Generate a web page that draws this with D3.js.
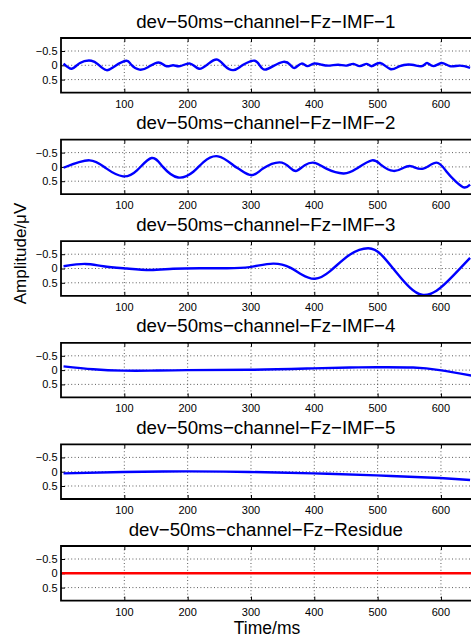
<!DOCTYPE html>
<html>
<head>
<meta charset="utf-8">
<script src="https://cdn.jsdelivr.net/npm/d3@7"></script>
<style>
  html, body { margin: 0; padding: 0; background: #fff; overflow: hidden; }
  svg { display: block; }
  text { font-family: "Liberation Sans", Arial, Helvetica, sans-serif; fill: #000; }
</style>
</head>
<body>
<svg id="chart" width="471" height="637"></svg>
<script>
// Decomposition of the Fz channel (dev, 50 ms) into intrinsic mode functions
const titles = [
  "dev\u221250ms\u2212channel\u2212Fz\u2212IMF\u22121",
  "dev\u221250ms\u2212channel\u2212Fz\u2212IMF\u22122",
  "dev\u221250ms\u2212channel\u2212Fz\u2212IMF\u22123",
  "dev\u221250ms\u2212channel\u2212Fz\u2212IMF\u22124",
  "dev\u221250ms\u2212channel\u2212Fz\u2212IMF\u22125",
  "dev\u221250ms\u2212channel\u2212Fz\u2212Residue"
];

const xTicks = [100, 200, 300, 400, 500, 600];
const yTicks = [-0.5, 0, 0.5];
const yTickLabels = ["\u22120.5", "0", "0.5"];

// time (ms) and amplitude (µV) samples for each component
const imf1T = [4,17,30,48,59,72,85,103,111,124,138,154,166,177,188,204,218,233,247,259,272,283,293,306,314,322,335,351,362,369,380,389,399,412,425,438,451,462,472,483,491,504,520,535,554,570,578,588,601,614,630,646];
const imf1V = [-0.06,0.12,-0.08,-0.16,-0.02,0.17,0.03,-0.16,-0.02,0.15,0.06,-0.1,0.03,0,0.03,-0.06,0.12,-0.06,-0.2,0.03,0.17,0.05,-0.08,-0.16,0.01,0.15,0.03,-0.12,-0.02,0.09,-0.06,0.03,-0.06,-0.02,0.01,-0.02,0.01,-0.05,0.03,-0.05,0.03,-0.08,0.13,0.03,-0.02,0.03,-0.08,0.03,-0.08,0.03,0.01,0.09];

const imf2T = [4,45,72,98,120,143,161,185,209,225,248,272,283,301,319,345,362,372,385,401,419,446,467,491,506,525,541,554,572,593,609,624,637,646];
const imf2V = [0.03,-0.23,0.06,0.33,0.12,-0.31,0,0.37,0.17,-0.17,-0.37,-0.06,0.1,0.29,0.06,-0.16,0.03,0.14,-0.06,-0.14,0.06,0.23,0.06,-0.23,-0.06,0.14,0.03,-0.02,0.06,-0.15,0.17,0.52,0.72,0.62];

const imf3T = [4,38,67,104,141,177,219,262,298,335,362,380,401,425,456,485,506,530,551,570,593,619,646];
const imf3V = [-0.08,-0.16,-0.08,0,0.05,0.01,-0.01,-0.01,-0.05,-0.17,-0.03,0.21,0.36,0.09,-0.48,-0.71,-0.48,0.15,0.67,0.92,0.78,0.26,-0.37];

const imf4T = [4,51,98,141,199,298,398,456,498,556,598,648];
const imf4V = [-0.13,-0.03,0.02,0.02,0,-0.01,-0.06,-0.09,-0.1,-0.09,0,0.19];

const imf5T = [4,98,199,298,398,498,598,646];
const imf5V = [0.06,0.01,-0.01,0.01,0.06,0.13,0.22,0.29];

const residueT = [1, 650];
const residueV = [0, 0];

const seriesT = [imf1T, imf2T, imf3T, imf4T, imf5T, residueT];
const seriesV = [imf1V, imf2V, imf3V, imf4V, imf5V, residueV];
const seriesColor = ["#0000ff", "#0000ff", "#0000ff", "#0000ff", "#0000ff", "#ff0000"];

const svg = d3.select("#chart");

const left = 61, right = 472.6;
const top0 = 38, step = 101.6, panelH = 54.6;

const x = d3.scaleLinear().domain([0, 650]).range([left, right]);

const line = d3.line().curve(d3.curveNatural);

titles.forEach((title, i) => {
  const top = top0 + i * step;
  const bottom = top + panelH;
  const y = d3.scaleLinear().domain([-0.955, 0.955]).range([top, bottom]);
  const g = svg.append("g");

  const clipId = "clip" + i;
  svg.append("clipPath").attr("id", clipId)
    .append("rect").attr("x", left).attr("y", top)
    .attr("width", right - left).attr("height", panelH);

  // dotted grid
  g.selectAll(".gx").data(xTicks).join("line")
    .attr("x1", d => x(d)).attr("x2", d => x(d))
    .attr("y1", top).attr("y2", bottom)
    .attr("stroke", "#333").attr("stroke-width", 0.8)
    .attr("stroke-dasharray", "1,2.4");
  g.selectAll(".gy").data(yTicks).join("line")
    .attr("x1", left).attr("x2", right)
    .attr("y1", d => y(d)).attr("y2", d => y(d))
    .attr("stroke", "#333").attr("stroke-width", 0.8)
    .attr("stroke-dasharray", "1,2.4");

  // inward tick marks
  const xAxisB = d3.axisBottom(x).tickValues(xTicks).tickSize(-4).tickFormat("");
  const xAxisT = d3.axisTop(x).tickValues(xTicks).tickSize(-4).tickFormat("");
  const yAxisL = d3.axisLeft(y).tickValues(yTicks).tickSize(-4).tickFormat("");
  [
    g.append("g").attr("transform", `translate(0,${bottom})`).call(xAxisB),
    g.append("g").attr("transform", `translate(0,${top})`).call(xAxisT),
    g.append("g").attr("transform", `translate(${left},0)`).call(yAxisL)
  ].forEach(a => {
    a.select(".domain").remove();
    a.selectAll(".tick line").attr("stroke", "#000").attr("stroke-width", 1);
  });

  // data line
  const pts = seriesT[i].map((t, k) => [x(t), y(seriesV[i][k])]);
  g.append("path")
    .attr("d", line(pts))
    .attr("fill", "none")
    .attr("stroke", seriesColor[i])
    .attr("stroke-width", 2.4)
    .attr("stroke-linejoin", "round")
    .attr("clip-path", `url(#${clipId})`);

  // axes box
  g.append("path")
    .attr("d", `M${right},${top}H${left}V${bottom}H${right}`)
    .attr("fill", "none").attr("stroke", "#000").attr("stroke-width", 1.8);

  // tick labels
  g.selectAll(".xl").data(xTicks).join("text")
    .attr("x", d => x(d)).attr("y", bottom + 15)
    .attr("text-anchor", "middle").attr("font-size", 11)
    .text(d => d);
  g.selectAll(".yl").data(yTicks).join("text")
    .attr("x", left - 3.5).attr("y", d => y(d))
    .attr("dy", "0.36em")
    .attr("text-anchor", "end").attr("font-size", 11)
    .text((d, k) => yTickLabels[k]);

  // panel title
  g.append("text")
    .attr("x", (left + right) / 2 - 1).attr("y", top - 10.5)
    .attr("text-anchor", "middle").attr("font-size", 18.7)
    .text(title);
});

// axis titles
svg.append("text")
  .attr("transform", "translate(25.5,253.5) rotate(-90)")
  .attr("text-anchor", "middle").attr("font-size", 17)
  .text("Amplitude/\u03bcV");

svg.append("text")
  .attr("x", 267).attr("y", 633.5)
  .attr("text-anchor", "middle").attr("font-size", 17.5)
  .text("Time/ms");
</script>
</body>
</html>
